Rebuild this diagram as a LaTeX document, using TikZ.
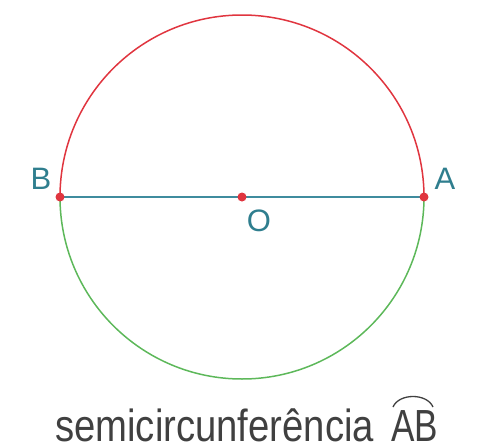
\documentclass[tikz,border=0pt]{standalone}
\usepackage{fontspec}
\setmainfont{Liberation Sans}
\definecolor{redarc}{HTML}{E0353F}
\definecolor{greenarc}{HTML}{5DB85A}
\definecolor{diam}{HTML}{3F8C9E}
\definecolor{lab}{HTML}{2F7E8E}
\definecolor{captxt}{HTML}{404040}
\begin{document}
\begin{tikzpicture}[x=1pt,y=-1pt,
  pt/.style={circle,fill=redarc,inner sep=0pt,minimum size=9pt},
  lbl/.style={text=lab,font=\fontsize{31}{31}\selectfont,inner sep=0pt},
  captxtstyle/.style={text=captxt,inner sep=0pt,anchor=base west}]
\useasboundingbox (0,0) rectangle (483,448);
\coordinate (O) at (242,197);
\coordinate (A) at (424,197);
\coordinate (B) at (60,197);
\draw[redarc,line width=1.5pt] (A) arc[start angle=0,end angle=-180,radius=182];
\draw[greenarc,line width=1.5pt] (A) arc[start angle=0,end angle=180,radius=182];
\draw[diam,line width=2.4pt] (B) -- (A);
\node[pt] (pA) at (A) {};
\node[pt] (pB) at (B) {};
\node[pt] (pO) at (O) {};
\node[lbl] (lB) at (41,179) {B};
\node[lbl] (lA) at (445,179) {A};
\node[lbl] (lO) at (259,221) {O};
\node[captxtstyle] (cap) at (55,441)
  {\scalebox{0.85}[1]{\fontsize{45}{45}\selectfont semicircunferência}};
\node[captxtstyle] (ab) at (391,441)
  {\scalebox{0.78}[1]{\fontsize{45}{45}\selectfont AB}};
\coordinate (hl) at (393,407);
\coordinate (hr) at (433,407);
\draw[captxt,line width=1.3pt] (hl) .. controls (399,393) and (427,393) .. (hr);
\end{tikzpicture}
\end{document}
